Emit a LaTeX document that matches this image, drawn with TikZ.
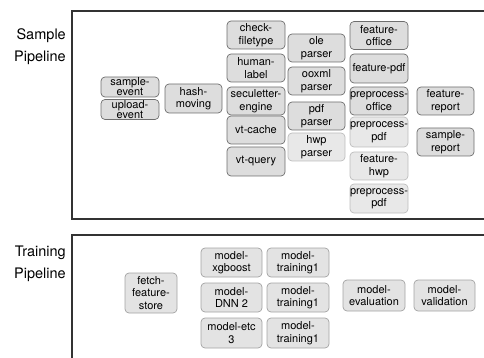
\documentclass[tikz,border=0pt]{standalone}
\usepackage{fontspec}
\setmainfont{TeX Gyre Heros}
\usetikzlibrary{positioning}
\definecolor{boxgray}{HTML}{DDDDDD}
\definecolor{boxline}{HTML}{6E6E6E}
\definecolor{faintgray}{HTML}{E8E8E8}
\definecolor{faintline}{HTML}{BDBDBD}
\definecolor{traingray}{HTML}{E3E3E3}
\definecolor{trainline}{HTML}{A3A3A3}
\definecolor{laneline}{HTML}{333333}

\begin{document}
\begin{tikzpicture}[x=1pt, y=-1pt,
	box/.style={draw=boxline, fill=boxgray, rounded corners=4pt, inner sep=0pt,
		line width=0.7pt, align=center, font=\fontsize{11}{12.5}\selectfont,
		minimum width=58pt, minimum height=28pt},
	faint/.style={box, draw=faintline, fill=faintgray},
	trainbox/.style={box, draw=trainline, fill=traingray, minimum width=61pt, minimum height=29pt},
	lane/.style={draw=laneline, line width=1.2pt},
	title/.style={align=right, anchor=east, inner sep=0pt, font=\fontsize{14.5}{22}\selectfont}
]
	\useasboundingbox (0,0) rectangle (484,358);
	\clip (0,0) rectangle (484,358);
	% lanes
	\draw[lane] (72,11) rectangle (500,219);
	\draw[lane] (72,235) rectangle (500,380);
	\node[title] (samplelbl) at (66,47) {Sample\\Pipeline};
	\node[title] (trainlbl) at (66,264) {Training\\Pipeline};
	% sample pipeline
	\node[box, minimum height=20pt, font=\fontsize{11}{10}\selectfont] (sevent) at (130,87) {sample-\\event};
	\node[box, minimum height=20pt, font=\fontsize{11}{10}\selectfont] (uevent) at (130,109.5) {upload-\\event};
	\node[box, minimum width=57pt, minimum height=29pt] (hash) at (193.5,98.5) {hash-\\moving};
	\node[box] (check) at (256,35) {check-\\filetype};
	\node[box] (human) at (256,68) {human-\\label};
	\node[box] (secu) at (256,101) {seculetter-\\engine};
	\node[box] (vtcache) at (256,130) {vt-cache};
	\node[box, minimum height=29pt] (vtquery) at (256,161.5) {vt-query};
	\node[box, minimum width=57pt] (ole) at (316.5,48) {ole\\parser};
	\node[box, minimum width=57pt] (ooxml) at (316.5,81) {ooxml\\parser};
	\node[box, minimum width=57pt] (pdfp) at (316.5,116) {pdf\\parser};
	\node[faint, minimum width=57pt] (hwpp) at (316.5,147) {hwp\\parser};
	\node[box] (foffice) at (379,35.5) {feature-\\office};
	\node[box, minimum height=29pt] (fpdf) at (379,68.5) {feature-pdf};
	\node[box] (poffice) at (379,101) {preprocess-\\office};
	\node[faint, minimum height=30pt] (ppdf) at (379,132) {preprocess-\\pdf};
	\node[faint] (fhwp) at (379,166) {feature-\\hwp};
	\node[faint, minimum height=29pt] (ppdftwo) at (379,198.5) {preprocess-\\pdf};
	\node[box, minimum width=57pt] (freport) at (445.5,101) {feature-\\report};
	\node[box, minimum width=57pt] (sreport) at (445.5,142) {sample-\\report};
	% training pipeline
	\node[trainbox, minimum width=52pt, minimum height=40pt] (fetch) at (151,293) {fetch-\\feature-\\store};
	\node[trainbox] (xgb) at (231.5,262.5) {model-\\xgboost};
	\node[trainbox] (dnn) at (231.5,297.5) {model-\\DNN 2};
	\node[trainbox, minimum height=30pt] (etc) at (231.5,333) {model-etc\\3};
	\node[trainbox, minimum width=62pt] (trainone) at (298,262.5) {model-\\training1};
	\node[trainbox, minimum width=62pt] (traintwo) at (298,297.5) {model-\\training1};
	\node[trainbox, minimum width=62pt, minimum height=30pt] (trainthree) at (298,333) {model-\\training1};
	\node[trainbox, minimum width=62pt, minimum height=31pt] (eval) at (374,295.5) {model-\\evaluation};
	\node[trainbox, minimum height=31pt] (valid) at (444.5,295.5) {model-\\validation};
\end{tikzpicture}
\end{document}
